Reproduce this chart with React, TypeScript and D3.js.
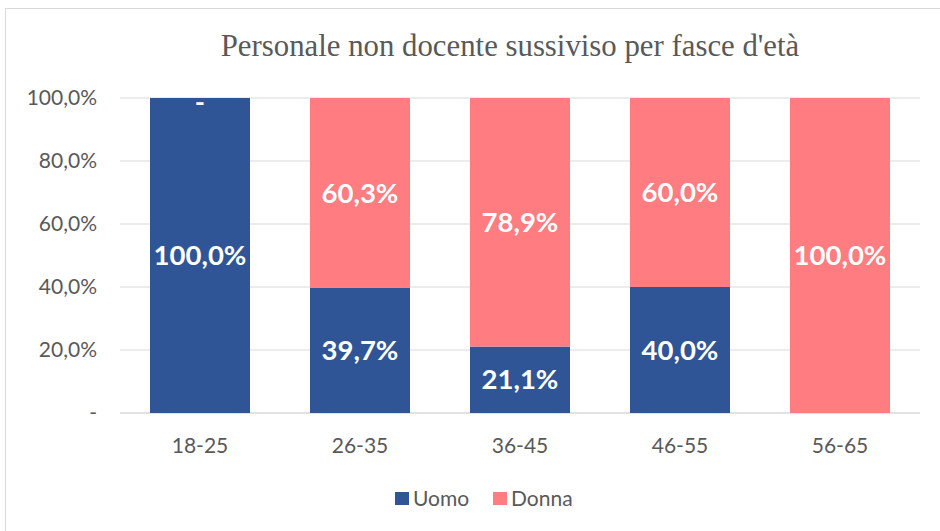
import React, { useRef, useEffect } from 'react';
import * as d3 from 'd3';

const categories = ['18-25', '26-35', '36-45', '46-55', '56-65'];
const uomo = [100.0, 39.7, 21.1, 40.0, 0];
const donna = [0, 60.3, 78.9, 60.0, 100.0];
const yTicks = [0, 20, 40, 60, 80, 100];
const seriesNames = ['Uomo', 'Donna'];
const colors = ['#2F5597', '#FF7C80'];

const fmt = (v: number) => (v === 0 ? '-' : v.toFixed(1).replace('.', ',') + '%');

const App = () => {
  const ref = useRef<SVGSVGElement>(null);

  useEffect(() => {
    const svg = d3.select(ref.current);
    svg.selectAll('*').remove();

    const width = 940;
    const height = 531;
    const margin = { left: 120, right: 20, top: 98, bottom: 118 };
    const sans = 'Lato, "Open Sans", sans-serif';

    // chart frame
    svg.append('rect')
      .attr('x', 5.5).attr('y', 8.5)
      .attr('width', width).attr('height', height)
      .attr('fill', 'white').attr('stroke', '#d9d9d9');

    svg.append('text')
      .attr('x', 510).attr('y', 56)
      .attr('text-anchor', 'middle')
      .attr('font-family', '"Liberation Serif", serif')
      .attr('font-size', 30.8)
      .attr('fill', '#595959')
      .text("Personale non docente sussiviso per fasce d'età");

    const x = d3.scaleBand()
      .domain(categories)
      .range([margin.left, width - margin.right])
      .paddingInner(0.375)
      .paddingOuter(0.1875);

    const y = d3.scaleLinear()
      .domain([0, 100])
      .range([height - margin.bottom, margin.top]);

    const g = svg.append('g');

    // gridlines
    g.selectAll('.grid')
      .data(yTicks)
      .enter()
      .append('line')
      .attr('x1', margin.left).attr('x2', width - margin.right)
      .attr('y1', d => y(d)).attr('y2', d => y(d))
      .attr('stroke', '#d9d9d9')
      .attr('stroke-width', d => (d === 0 ? 1.5 : 1.2));

    g.selectAll('.ytick')
      .data(yTicks)
      .enter()
      .append('text')
      .attr('x', 97)
      .attr('y', d => y(d))
      .attr('dy', '0.35em')
      .attr('text-anchor', 'end')
      .attr('font-family', sans)
      .attr('font-size', 21)
      .attr('fill', '#595959')
      .text(d => (d === 0 ? '-' : d.toFixed(1).replace('.', ',') + '%'));

    g.selectAll('.xtick')
      .data(categories)
      .enter()
      .append('text')
      .attr('x', d => (x(d) as number) + x.bandwidth() / 2)
      .attr('y', 446)
      .attr('dy', '0.35em')
      .attr('text-anchor', 'middle')
      .attr('font-family', sans)
      .attr('font-size', 21)
      .attr('fill', '#595959')
      .text(d => d);

    const stacked = d3.stack<any>()
      .keys(seriesNames)(categories.map((c, i) => ({ cat: c, Uomo: uomo[i], Donna: donna[i] })));

    stacked.forEach((layer, si) => {
      const lg = g.append('g');
      lg.selectAll('rect')
        .data(layer)
        .enter()
        .append('rect')
        .attr('x', d => x(d.data.cat) as number)
        .attr('width', x.bandwidth())
        .attr('y', d => y(d[1]))
        .attr('height', d => y(d[0]) - y(d[1]))
        .attr('fill', colors[si]);

      lg.selectAll('text')
        .data(layer)
        .enter()
        .append('text')
        .attr('x', d => (x(d.data.cat) as number) + x.bandwidth() / 2)
        .attr('y', d => (d[1] - d[0] === 0 ? y(d[0]) + 4 : y((d[0] + d[1]) / 2)))
        .attr('dy', '0.35em')
        .attr('text-anchor', 'middle')
        .attr('font-family', sans)
        .attr('font-weight', 'bold')
        .attr('font-size', 27.5)
        .attr('fill', 'white')
        .text(d => fmt(d[1] - d[0]));
    });

    // legend
    const legend = svg.append('g');
    const lx = [395, 493];
    seriesNames.forEach((name, i) => {
      legend.append('rect')
        .attr('x', lx[i]).attr('y', 492)
        .attr('width', 14).attr('height', 13)
        .attr('fill', colors[i]);
      legend.append('text')
        .attr('x', lx[i] + 18).attr('y', 499)
        .attr('dy', '0.35em')
        .attr('font-family', sans)
        .attr('font-size', 21)
        .attr('fill', '#595959')
        .text(name);
    });
  }, []);

  return <svg ref={ref} width="940" height="531" style={{ position: 'absolute', left: 0, top: 0 }}></svg>;
};

export default App;
